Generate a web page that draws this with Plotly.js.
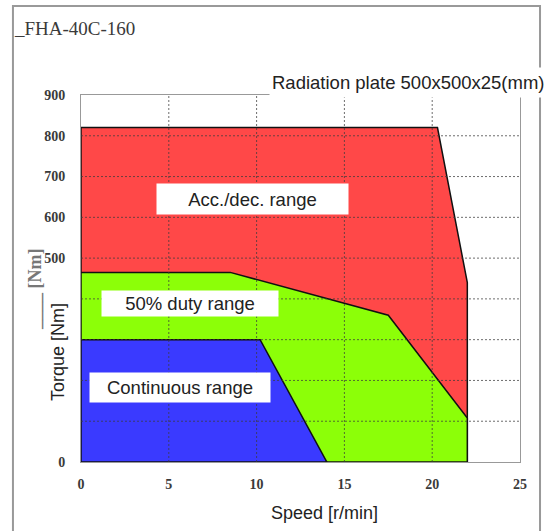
<!DOCTYPE html>
<html>
<head>
<meta charset="utf-8">
<script src="https://cdn.plot.ly/plotly-3.0.1.min.js"></script>
<style>html,body{margin:0;padding:0;background:#fff;}#chart{width:547px;height:531px;}</style>
</head>
<body>
<div id="chart"></div>
<script>
// Region boundaries (speed r/min, torque Nm)
const accSpeed = [0, 0, 20.3, 22, 22, 0];
const accTorque = [0, 820, 820, 440, 0, 0];
const dutySpeed = [0, 0, 8.5, 17.5, 22, 22, 0];
const dutyTorque = [0, 465, 465, 360, 108, 0, 0];
const contSpeed = [0, 0, 10.2, 14, 0];
const contTorque = [0, 300, 300, 0, 0];

const regionNames = ["Acc./dec. range", "50% duty range", "Continuous range"];
const regionLabelX = [9.77, 6.2, 5.64];
const regionLabelY = [644, 388, 183];

const xTicks = [0, 5, 10, 15, 20, 25];
const yTicks = [0, 100, 200, 300, 400, 500, 600, 700, 800, 900];
const yTickText = ["0", "", "", "", "", "500", "600", "700", "800", "900"];

const titleText = "_FHA-40C-160";
const noteText = "Radiation plate 500x500x25(mm)";

const traces = [
  {x: accSpeed, y: accTorque, fill: "toself", fillcolor: "#ff4848", line: {color: "#111", width: 1.5}, mode: "lines", hoverinfo: "skip"},
  {x: dutySpeed, y: dutyTorque, fill: "toself", fillcolor: "#8cff08", line: {color: "#111", width: 1.5}, mode: "lines", hoverinfo: "skip"},
  {x: contSpeed, y: contTorque, fill: "toself", fillcolor: "#3a3aff", line: {color: "#111", width: 1.5}, mode: "lines", hoverinfo: "skip"}
];

const shapes = [];
xTicks.slice(1, -1).forEach(v => shapes.push({type: "line", xref: "x", yref: "paper", x0: v, x1: v, y0: 0, y1: 1, layer: "above", line: {color: "rgba(60,60,60,0.75)", width: 1, dash: "2px,2px"}}));
yTicks.slice(1, -1).forEach(v => shapes.push({type: "line", xref: "paper", yref: "y", x0: 0, x1: 1, y0: v, y1: v, layer: "above", line: {color: "rgba(60,60,60,0.75)", width: 1, dash: "2px,2px"}}));
// outer frame
shapes.push({type: "rect", xref: "paper", yref: "paper", x0: -0.155, x1: 1.0456, y0: -0.3, y1: 1.2425, layer: "below", line: {color: "#999", width: 2}, fillcolor: "rgba(0,0,0,0)"});

const sans = "Liberation Sans, Arial, sans-serif";
const annotations = [];
regionNames.forEach((t, i) => {
  const w = [187, 172, 176][i], h = [26, 21, 25][i];
  annotations.push({x: regionLabelX[i], y: regionLabelY[i], xref: "x", yref: "y", xanchor: "center", yanchor: "middle", text: t, showarrow: false, bgcolor: "#fff", width: w, height: h, borderpad: 2, font: {family: sans, size: 18.5, color: "#222"}});
});
annotations.push({xref: "paper", yref: "paper", x: (269 - 81) / 439, y: (462 - 83) / 367, xanchor: "left", yanchor: "middle", text: noteText, showarrow: false, bgcolor: "#fff", height: 25, borderpad: 2, font: {family: sans, size: 18.5, color: "#222"}});
annotations.push({xref: "paper", yref: "paper", x: (58 - 81) / 439, y: (462 - 352) / 367, xanchor: "center", yanchor: "middle", text: "Torque [Nm]", textangle: -90, showarrow: false, font: {family: sans, size: 18, color: "#222"}});
annotations.push({xref: "paper", yref: "paper", x: (324 - 81) / 439, y: (462 - 513) / 367, xanchor: "center", yanchor: "middle", text: "Speed [r/min]", showarrow: false, font: {family: sans, size: 18, color: "#222"}});
annotations.push({xref: "paper", yref: "paper", x: (35 - 81) / 439, y: (462 - 290) / 367, xanchor: "center", yanchor: "middle", text: "____ [Nm]", textangle: -90, showarrow: false, font: {family: "Liberation Serif, serif", size: 18, color: "#777", weight: "bold"}});

const tickFont = {family: "Liberation Serif, serif", size: 14, color: "#3a3a3a", weight: "bold"};
const layout = {
  width: 547, height: 531,
  margin: {l: 81, r: 27, t: 95, b: 69},
  paper_bgcolor: "#fff", plot_bgcolor: "#fff",
  showlegend: false,
  title: {text: titleText, xref: "container", yref: "container", x: 15 / 547, xanchor: "left", y: 1 - 28 / 531, yanchor: "middle", font: {family: "Liberation Serif, serif", size: 19, color: "#3a3a3a"}},
  xaxis: {range: [0, 25], tickvals: xTicks, ticktext: xTicks.map(String), showgrid: false, zeroline: false, showline: true, mirror: true, linecolor: "#999", linewidth: 1, ticks: "outside", ticklen: 9, tickcolor: "rgba(0,0,0,0)", tickfont: tickFont, fixedrange: true},
  yaxis: {range: [0, 900], tickvals: yTicks, ticktext: yTickText, showgrid: false, zeroline: false, showline: true, mirror: true, linecolor: "#999", linewidth: 1, ticks: "outside", ticklen: 12, tickcolor: "rgba(0,0,0,0)", tickfont: tickFont, fixedrange: true},
  shapes: shapes,
  annotations: annotations
};

Plotly.newPlot("chart", traces, layout, {displayModeBar: false, staticPlot: true});
</script>
</body>
</html>
